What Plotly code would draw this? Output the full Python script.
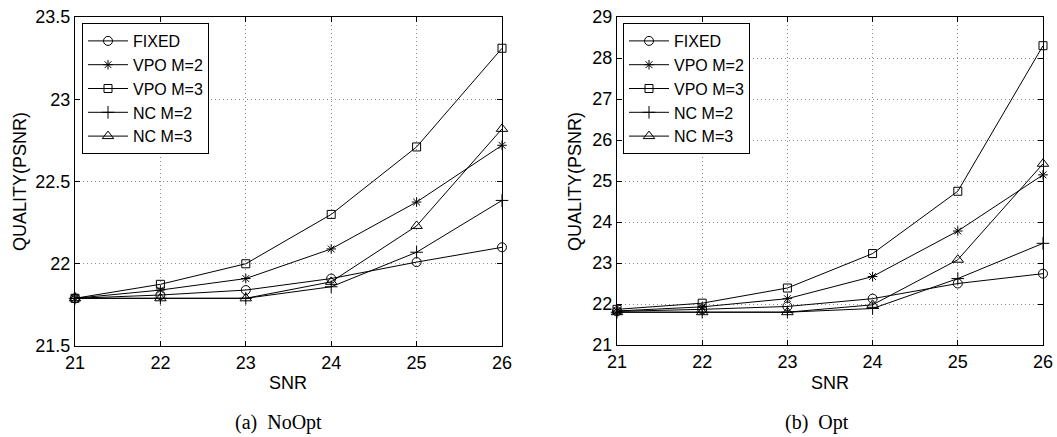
import plotly.graph_objects as go

snr = [21, 22, 23, 24, 25, 26]
series_names = ["FIXED", "VPO M=2", "VPO M=3", "NC M=2", "NC M=3"]

# (a) NoOpt
noopt_fixed = [21.79, 21.81, 21.84, 21.91, 22.01, 22.10]
noopt_vpo2 = [21.79, 21.84, 21.91, 22.09, 22.375, 22.72]
noopt_vpo3 = [21.79, 21.875, 22.00, 22.30, 22.71, 23.31]
noopt_nc2 = [21.79, 21.79, 21.79, 21.86, 22.07, 22.385]
noopt_nc3 = [21.79, 21.79, 21.79, 21.89, 22.23, 22.82]

# (b) Opt
opt_fixed = [21.82, 21.87, 21.94, 22.13, 22.50, 22.74]
opt_vpo2 = [21.83, 21.93, 22.13, 22.67, 23.78, 25.15]
opt_vpo3 = [21.87, 22.02, 22.39, 23.23, 24.75, 28.30]
opt_nc2 = [21.80, 21.80, 21.80, 21.89, 22.62, 23.48]
opt_nc3 = [21.80, 21.80, 21.80, 21.98, 23.08, 25.42]

symbols = ["circle-open", "asterisk-open", "square-open", "cross-thin-open", "triangle-up-open"]
sizes = [9, 8, 8, 9, 10]

noopt = [noopt_fixed, noopt_vpo2, noopt_vpo3, noopt_nc2, noopt_nc3]
opt = [opt_fixed, opt_vpo2, opt_vpo3, opt_nc2, opt_nc3]

fig = go.Figure()
for i, name in enumerate(series_names):
    fig.add_trace(go.Scatter(
        x=snr, y=noopt[i], name=name, mode="lines+markers", cliponaxis=False,
        line=dict(color="black", width=1),
        marker=dict(symbol=symbols[i], size=sizes[i], color="black", line=dict(width=1, color="black")),
        xaxis="x", yaxis="y", legend="legend"))
for i, name in enumerate(series_names):
    fig.add_trace(go.Scatter(
        x=snr, y=opt[i], name=name, mode="lines+markers", cliponaxis=False,
        line=dict(color="black", width=1),
        marker=dict(symbol=symbols[i], size=sizes[i], color="black", line=dict(width=1, color="black")),
        xaxis="x2", yaxis="y2", legend="legend2"))

W, H = 1057, 437
font_fam = "Liberation Sans, Arial, sans-serif"
serif = "Liberation Serif, Times New Roman, serif"

axis_common = dict(
    showline=True, linecolor="black", linewidth=1, mirror="ticks",
    ticks="inside", ticklen=5, tickcolor="black", automargin=False,
    showgrid=True, gridcolor="#8a8a8a", griddash="1px,3px", gridwidth=1,
    zeroline=False, tickfont=dict(family=font_fam, size=18, color="black"),
)

legend_common = dict(
    xanchor="left", yanchor="top",
    bordercolor="black", borderwidth=1, bgcolor="white",
    font=dict(family=font_fam, size=16, color="black"),
    tracegroupgap=0, itemwidth=40,
)

fig.update_layout(
    template="none",
    width=W, height=H,
    margin=dict(l=0, r=0, t=0, b=0, autoexpand=False),
    paper_bgcolor="white", plot_bgcolor="white",
    font=dict(family=font_fam, color="black"),
    xaxis=dict(domain=[75 / W, 502 / W], range=[21, 26], dtick=1, anchor="y", **axis_common),
    yaxis=dict(domain=[1 - 346 / H, 1 - 17 / H], range=[21.5, 23.5], dtick=0.5, anchor="x", **axis_common),
    xaxis2=dict(domain=[617 / W, 1043 / W], range=[21, 26], dtick=1, anchor="y2", **axis_common),
    yaxis2=dict(domain=[1 - 345 / H, 1 - 17 / H], range=[21, 29], dtick=1, anchor="x2", **axis_common),
    legend=dict(x=82 / W, y=1 - 23 / H, **legend_common),
    legend2=dict(x=623 / W, y=1 - 23 / H, **legend_common),
    showlegend=True,
)

lab = dict(family=font_fam, size=18, color="black")
common_anno = dict(xref="paper", yref="paper", showarrow=False, xanchor="center", yanchor="middle")
annos = [
    dict(text="SNR", x=288 / W, y=1 - 383 / H, font=lab, **common_anno),
    dict(text="SNR", x=830 / W, y=1 - 383 / H, font=lab, **common_anno),
    dict(text="QUALITY(PSNR)", x=20 / W, y=1 - 182 / H, textangle=-90, font=lab, **common_anno),
    dict(text="QUALITY(PSNR)", x=575 / W, y=1 - 182 / H, textangle=-90, font=lab, **common_anno),
    dict(text="(a)  NoOpt", x=278 / W, y=1 - 422 / H,
         font=dict(family=serif, size=20, color="black"), **common_anno),
    dict(text="(b)  Opt", x=817 / W, y=1 - 422 / H,
         font=dict(family=serif, size=20, color="black"), **common_anno),
]
fig.update_layout(annotations=annos)

fig.write_html("out.html", config={"displayModeBar": False},
               post_script="document.body.style.margin='0px';document.body.style.overflow='hidden';")
